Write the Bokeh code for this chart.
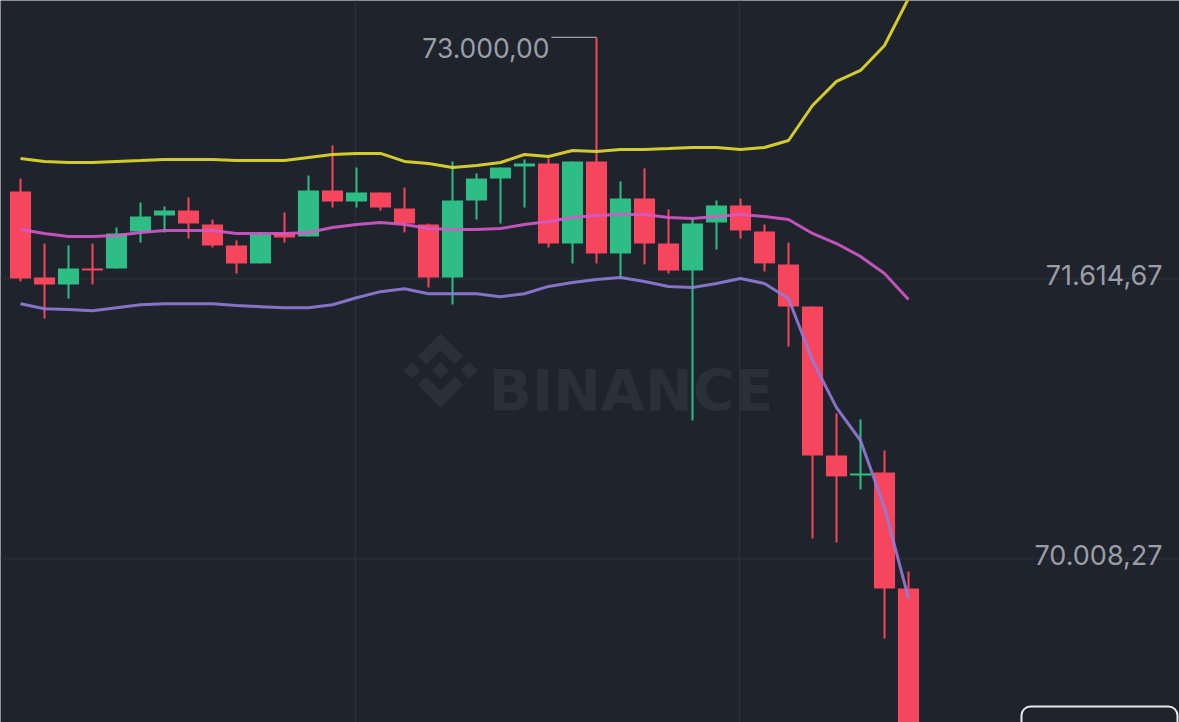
from bokeh.plotting import figure
from bokeh.models import Span, BoxAnnotation, ColumnDataSource
from bokeh.core.properties import value
from bokeh.embed import file_html
from bokeh.resources import INLINE

# ---------------- data ----------------
opens = [72116, 71622, 71582, 71674, 71674, 71886, 71978, 72007, 71926, 71806,
         71703, 71875, 71857, 72121, 72058, 72110, 72018, 71926, 71622, 72064,
         72190, 72259, 72276, 71817, 72288, 71760, 72075, 71817, 71662, 71938,
         72035, 71886, 71697, 71456, 70601, 70486, 70503, 69838]
highs = [72190, 71817, 71806, 71817, 71909, 72052, 72030, 72081, 71955, 71834,
         71880, 71995, 72207, 72379, 72253, 72110, 72139, 71932, 72288, 72219,
         72253, 72299, 72305, 72288, 73000, 72173, 72248, 72012, 71961, 72064,
         72075, 71926, 71823, 71456, 70842, 70808, 70630, 69936]
lows = [71599, 71387, 71502, 71582, 71674, 71823, 71880, 71846, 71794, 71645,
        71703, 71823, 71857, 72024, 72024, 72007, 71880, 71565, 71467, 71955,
        71932, 72024, 71794, 71703, 71703, 71622, 71697, 71645, 70802, 71783,
        71846, 71657, 71226, 70125, 70102, 70406, 69551, 69000]
closes = [71616, 71582, 71674, 71662, 71875, 71972, 72007, 71932, 71806, 71703,
          71869, 71852, 72121, 72058, 72110, 72024, 71932, 71622, 72064, 72190,
          72253, 72276, 71817, 72288, 71760, 72075, 71817, 71662, 71932, 72035,
          71892, 71703, 71456, 70601, 70481, 70498, 69838, 69051]

boll_up = [72305, 72288, 72282, 72282, 72288, 72293, 72299, 72299, 72299, 72293,
           72293, 72293, 72311, 72328, 72334, 72334, 72288, 72276, 72253, 72265,
           72282, 72328, 72316, 72351, 72345, 72357, 72357, 72362, 72368, 72368,
           72357, 72368, 72408, 72609, 72747, 72810, 72953, 73223]
boll_mb = [71898, 71875, 71857, 71857, 71863, 71880, 71892, 71892, 71892, 71875,
           71875, 71875, 71880, 71909, 71926, 71938, 71926, 71903, 71898, 71898,
           71903, 71926, 71943, 71966, 71978, 71984, 71984, 71966, 71961, 71972,
           71984, 71972, 71955, 71875, 71817, 71743, 71645, 71496]
boll_dn = [71472, 71443, 71438, 71432, 71449, 71466, 71472, 71472, 71472, 71461,
           71455, 71449, 71449, 71466, 71506, 71541, 71558, 71529, 71529, 71529,
           71512, 71529, 71571, 71593, 71611, 71622, 71599, 71571, 71565, 71588,
           71616, 71588, 71502, 71146, 70876, 70687, 70303, 69781]

grid_prices = [71614.67, 70008.27]
grid_candles = [13.96, 29.96]
peak_price = 73000.00
last_price = 69051.00
watermark = "BINANCE"

# ---------------- style ----------------
BG = "#1f232c"
GRID = "#2e323a"
UP = "#2ebd85"
DOWN = "#f6465d"
C_UP_BAND = "#dcd52a"
C_MB_BAND = "#d459c9"
C_DN_BAND = "#917bd8"
LABEL = "#9a9ea7"
WM = "#2b2f38"
FONT = "Inter"

W, H = 1179, 722


# mapping of picture pixels (reference) to data space, for decorations
def dx(px):
    return (px - 20) / 24.0


Y0, K = 73211.3, 5.737


def dy(py):
    return Y0 - K * py


def fmt(v):
    s = f"{v:,.2f}"
    return s.replace(",", "X").replace(".", ",").replace("X", ".")


idx = list(range(len(opens)))
inc = [c >= o for o, c in zip(opens, closes)]
min_h = 1.2 * K
tops = [max(o, c) if abs(o - c) >= min_h else max(o, c) + min_h / 2 for o, c in zip(opens, closes)]
bots = [min(o, c) if abs(o - c) >= min_h else min(o, c) - min_h / 2 for o, c in zip(opens, closes)]
colors = [UP if u else DOWN for u in inc]

src = ColumnDataSource(dict(x=idx, o=opens, h=highs, l=lows, c=closes,
                            top=tops, bot=bots, col=colors))

p = figure(width=W, height=H, output_backend="svg", toolbar_location=None,
           x_range=(dx(0), dx(1179)), y_range=(dy(722), dy(0)),
           min_border=0, min_border_left=0, min_border_right=0,
           min_border_top=0, min_border_bottom=0,
           background_fill_color=BG, border_fill_color=BG,
           outline_line_color=None)
p.axis.visible = False
p.grid.visible = False

for gx in grid_candles:
    p.add_layout(Span(location=gx, dimension="height", line_color=GRID,
                      line_width=1, level="underlay"))
for gp in grid_prices:
    p.add_layout(Span(location=gp, dimension="width", line_color=GRID,
                      line_width=1, level="underlay"))

# watermark logo (Binance mark) + word
s = 74 / 126.63
ox, oy = 403, 333
logo = [
    [(38.73, 53.2), (63.32, 28.62), (87.92, 53.22), (102.22, 38.91), (63.32, 0), (24.42, 38.9)],
    [(38.73, 73.43), (63.32, 98.01), (87.92, 73.41), (102.22, 87.72), (63.32, 126.63), (24.42, 87.73)],
    [(0, 63.31), (14.3, 49.0), (28.61, 63.31), (14.3, 77.61)],
    [(98.03, 63.33), (112.33, 49.02), (126.64, 63.32), (112.33, 77.64)],
    [(77.83, 63.3), (63.32, 48.78), (48.81, 63.3), (63.32, 77.83)],
]
p.patches(xs=[[dx(ox + a * s) for a, b in poly] for poly in logo],
          ys=[[dy(oy + b * s) for a, b in poly] for poly in logo],
          fill_color=WM, line_color=None)
p.text(x=[dx(488)], y=[dy(390)], text=[watermark], text_align="left",
       text_baseline="alphabetic", text_font=value("DejaVu Sans"), text_font_style="bold",
       text_font_size="57px", text_color=WM)

# candles
p.segment(x0="x", y0="h", x1="x", y1="l", source=src, line_color="col", line_width=2)
p.vbar(x="x", width=0.88, top="top", bottom="bot", source=src,
       fill_color="col", line_color=None)

# bollinger bands
p.line(idx, boll_up, line_color=C_UP_BAND, line_width=3, line_alpha=0.95)
p.line(idx, boll_mb, line_color=C_MB_BAND, line_width=3, line_alpha=0.9)
p.line(idx, boll_dn, line_color=C_DN_BAND, line_width=3, line_alpha=0.9)

# price labels on grid lines
p.text(x=[dx(1162)] * len(grid_prices), y=[g + 4 * K for g in grid_prices],
       text=[fmt(g) for g in grid_prices], text_align="right",
       text_baseline="alphabetic", text_font=value(FONT), text_font_size="27px",
       text_color=LABEL)

# peak marker
peak_i = highs.index(max(highs))
p.segment(x0=[dx(551)], y0=[peak_price], x1=[peak_i], y1=[peak_price],
          line_color=LABEL, line_width=1.2)
p.text(x=[dx(549)], y=[peak_price - 10.5 * K], text=[fmt(peak_price)],
       text_align="right", text_baseline="alphabetic", text_font=value(FONT),
       text_font_size="26.5px", text_color=LABEL)

# current price box (cut by bottom edge, as in the picture)
p.add_layout(BoxAnnotation(left=dx(1021), right=dx(1177), top=dy(706), bottom=dy(760),
                           fill_color=BG, fill_alpha=1, line_color="#e8eaee",
                           line_alpha=1, line_width=2, border_radius=9))
p.text(x=[dx(1036)], y=[dy(740)], text=[fmt(last_price)], text_align="left",
       text_baseline="alphabetic", text_font=value(FONT), text_font_size="28px",
       text_color="#ffffff", text_font_style="bold")

html = file_html(p, INLINE, title="BTC chart")
open("out.html", "w").write(html)
